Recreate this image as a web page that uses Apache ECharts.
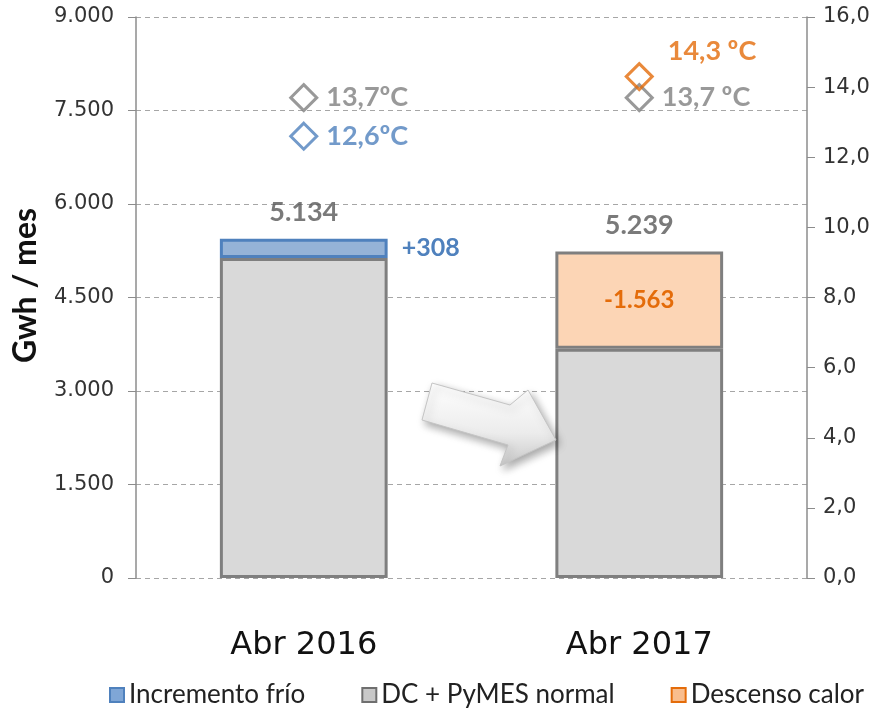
<!DOCTYPE html>
<html>
<head>
<meta charset="utf-8">
<script src="https://cdn.jsdelivr.net/npm/echarts@6/dist/echarts.min.js"></script>
<style>
  html, body { margin: 0; padding: 0; background: #fff; }
  #chart { width: 888px; height: 718px; }
</style>
</head>
<body>
<div id="chart"></div>
<script>
// datos (Gwh / mes y ºC)
const categories = ['Abr 2016', 'Abr 2017'];
const baseDemand = [5134, 3676];      // DC + PyMES normal
const coldIncrease = [308, null];     // Incremento frío
const heatDecrease = [null, 1563];    // Descenso calor
const totalLabels = [5134, 5239];
const tempNormal = [13.7, 13.7];
const tempCold = [12.6, null];
const tempHeat = [null, 14.3];

const fontCalibri = 'Lato';
const fontAxis = 'DejaVu Sans';

const thousands = (v) => String(Math.round(v)).replace(/\B(?=(\d{3})+(?!\d))/g, '.');
const decimal = (v) => v.toFixed(1).replace('.', ',');

const stackTop = baseDemand.map((b, i) => b + (coldIncrease[i] || 0) + (heatDecrease[i] || 0));

const chart = echarts.init(document.getElementById('chart'));

const diamondSeries = (name, data, color, labelCfg) => ({
  name: name,
  type: 'scatter',
  yAxisIndex: 1,
  symbol: 'diamond',
  symbolSize: 26,
  z: 5,
  data: data,
  itemStyle: { color: 'rgba(255,255,255,0)', borderColor: color, borderWidth: 3 },
  label: Object.assign({
    show: true,
    position: 'right',
    distance: 8,
    color: color,
    fontFamily: fontCalibri,
    fontWeight: 'bold',
    fontSize: 27
  }, labelCfg)
});

const option = {
  animation: false,
  grid: { left: 136, right: 81, top: 17, bottom: 140, containLabel: false, outerBoundsMode: 'none' },
  legend: {
    bottom: 5,
    left: 104,
    itemWidth: 14,
    itemHeight: 14,
    itemGap: 56,
    icon: 'rect',
    textStyle: { fontFamily: fontCalibri, fontSize: 26, color: '#222' },
    data: [
      { name: 'Incremento frío', itemStyle: { color: '#7fa6d6', borderColor: '#4f81bd', borderWidth: 2 } },
      { name: 'DC + PyMES normal', itemStyle: { color: '#c8c8c8', borderColor: '#6f6f6f', borderWidth: 2 } },
      { name: 'Descenso calor', itemStyle: { color: '#f9bd8d', borderColor: '#e46c0a', borderWidth: 2 } }
    ]
  },
  xAxis: {
    type: 'category',
    data: categories,
    axisLine: { show: false },
    axisTick: { show: false },
    axisLabel: { margin: 52, fontFamily: fontAxis, fontSize: 32, color: '#111' }
  },
  yAxis: [
    {
      type: 'value',
      min: 0,
      max: 9000,
      interval: 1500,
      name: 'Gwh / mes',
      nameLocation: 'middle',
      nameGap: 94,
      nameTextStyle: { fontFamily: fontCalibri, fontWeight: 'bold', fontSize: 32, color: '#111', padding: [0, 0, 0, 24] },
      axisLine: { show: true, lineStyle: { color: '#8c8c8c', width: 1.5 } },
      axisTick: { show: true, length: 8, lineStyle: { color: '#8c8c8c' } },
      axisLabel: { margin: 22, fontFamily: fontAxis, fontSize: 21, color: '#333', formatter: (v) => thousands(v) },
      splitLine: { show: true, lineStyle: { color: '#a6a6a6', type: [5, 4], width: 1 } }
    },
    {
      type: 'value',
      min: 0,
      max: 16,
      interval: 2,
      position: 'right',
      axisLine: { show: true, lineStyle: { color: '#8c8c8c', width: 1.5 } },
      axisTick: { show: true, length: 8, lineStyle: { color: '#8c8c8c' } },
      axisLabel: { margin: 16, fontFamily: fontAxis, fontSize: 21, color: '#333', formatter: (v) => decimal(v) },
      splitLine: { show: false }
    }
  ],
  series: [
    {
      name: 'DC + PyMES normal',
      type: 'bar',
      stack: 'demanda',
      barWidth: '50%',
      data: baseDemand,
      itemStyle: { color: '#d9d9d9', borderColor: '#7f7f7f', borderWidth: 3 }
    },
    {
      name: 'Incremento frío',
      type: 'bar',
      stack: 'demanda',
      data: coldIncrease,
      itemStyle: { color: '#95b3d7', borderColor: '#4f81bd', borderWidth: 3 },
      label: {
        show: true,
        position: 'right',
        distance: 14,
        formatter: (p) => '+' + thousands(p.value),
        color: '#4f81bd',
        fontFamily: fontCalibri,
        fontWeight: 'bold',
        fontSize: 25
      }
    },
    {
      name: 'Descenso calor',
      type: 'bar',
      stack: 'demanda',
      data: heatDecrease,
      itemStyle: { color: '#fcd5b5', borderColor: '#7f7f7f', borderWidth: 3 },
      label: {
        show: true,
        position: 'inside',
        formatter: (p) => '-' + thousands(p.value),
        color: '#e46c0a',
        fontFamily: fontCalibri,
        fontWeight: 'bold',
        fontSize: 24
      }
    },
    {
      name: 'total',
      type: 'scatter',
      symbolSize: 1,
      itemStyle: { color: 'rgba(0,0,0,0)' },
      data: stackTop,
      label: {
        show: true,
        position: 'top',
        distance: 12,
        formatter: (p) => thousands(totalLabels[p.dataIndex]),
        color: '#595959',
        fontFamily: fontCalibri,
        fontWeight: 'bold',
        fontSize: 27
      }
    },
    diamondSeries('Temp. normal', tempNormal, '#7f7f7f', {
      formatter: (p) => decimal(p.value) + (p.dataIndex === 0 ? 'ºC' : ' ºC'),
      distance: 8
    }),
    diamondSeries('Temp. frío', tempCold, '#4f81bd', {
      formatter: (p) => decimal(p.value) + 'ºC'
    }),
    diamondSeries('Temp. calor', tempHeat, '#e46c0a', {
      formatter: (p) => decimal(p.value) + ' ºC',
      distance: 14,
      offset: [0, -25]
    })
  ],
  graphic: [
    {
      // flecha decorativa
      type: 'polygon',
      z: 10,
      shape: {
        points: [[432, 383], [510, 405], [528, 390], [556, 440], [500, 466], [508, 445], [422, 420]]
      },
      style: {
        fill: new echarts.graphic.LinearGradient(0, 0, 0, 1, [
          { offset: 0, color: '#ffffff' },
          { offset: 0.6, color: '#ececec' },
          { offset: 1, color: '#c9c9c9' }
        ]),
        stroke: '#c4c4c4',
        lineWidth: 1,
        shadowBlur: 8,
        shadowColor: 'rgba(0,0,0,0.35)',
        shadowOffsetX: 3,
        shadowOffsetY: 4
      }
    }
  ]
};

chart.setOption(option);
</script>
</body>
</html>
